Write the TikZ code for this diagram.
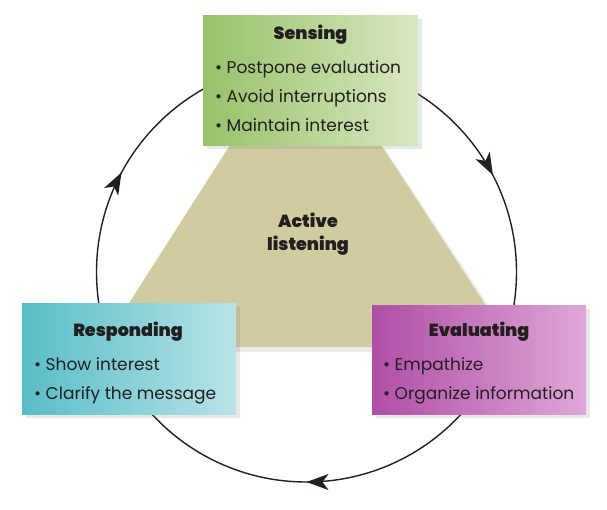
\documentclass[tikz,border=0pt]{standalone}
\usepackage{fontspec}
\setmainfont{Poppins}
\newfontfamily\blk{Poppins Black}
\usetikzlibrary{decorations.markings,arrows.meta,shadows}
\definecolor{ink}{RGB}{35,31,32}
\definecolor{trap}{RGB}{208,204,160}
\definecolor{gL}{RGB}{150,194,105}
\definecolor{gR}{RGB}{216,231,192}
\definecolor{tL}{RGB}{88,189,199}
\definecolor{tR}{RGB}{184,227,231}
\definecolor{pL}{RGB}{176,78,166}
\definecolor{pR}{RGB}{222,168,216}
\tikzset{
  box/.style={rectangle, inner sep=0pt, draw=none,
    drop shadow={opacity=0.18, shadow xshift=4pt, shadow yshift=-4pt}},
  ttl/.style={font=\fontsize{17.5}{20}\blk, text=ink, inner sep=0pt, anchor=base},
  itm/.style={font=\fontsize{17}{20}\selectfont, text=ink, inner sep=0pt, anchor=base west},
  cyc/.style={line width=1.4pt, draw=ink}
}
\begin{document}
\begin{tikzpicture}[x=1pt,y=-1pt]
\useasboundingbox (0,0) rectangle (607,509);
% cycle circle
\coordinate (c) at (306.5,272);
\draw[cyc, postaction={decorate}, decoration={markings,
  mark=at position 0.25 with {\arrow{Stealth[length=22pt,width=16pt,inset=6pt]}},
  mark=at position 0.5786 with {\arrow{Stealth[length=22pt,width=16pt,inset=6pt]}},
  mark=at position 0.9236 with {\arrow{Stealth[length=22pt,width=16pt,inset=6pt]}}}]
  (c) circle[radius=210];
% trapezoid
\fill[black, opacity=0.08] (234,149) -- (385,149) -- (519,352) -- (103,352) -- cycle;
\fill[trap] (230,145) -- (381,145) -- (513,347) -- (101,347) -- cycle;
\node[ttl] (act1) at (308,227) {Active};
\node[ttl] (act2) at (308,250) {listening};
% Sensing
\node[box, minimum width=215pt, minimum height=130pt, left color=gL, right color=gR] (sens) at (310.5,80) {};
\node[ttl] (senst) at (310.5,39) {Sensing};
\node[itm] (sens1) at (215,73) {• Postpone evaluation};
\node[itm] (sens2) at (215,102) {• Avoid interruptions};
\node[itm] (sens3) at (215,131) {• Maintain interest};
% Responding
\node[box, minimum width=214pt, minimum height=111pt, left color=tL, right color=tR] (resp) at (129,358.5) {};
\node[ttl] (respt) at (128,336) {Responding};
\node[itm] (resp1) at (34,370) {• Show interest};
\node[itm] (resp2) at (34,399) {• Clarify the message};
% Evaluating
\node[box, minimum width=214pt, minimum height=109pt, left color=pL, right color=pR] (eval) at (479,359.5) {};
\node[ttl] (evalt) at (479,336) {Evaluating};
\node[itm] (eval1) at (383,370) {• Empathize};
\node[itm] (eval2) at (383,399) {• Organize information};
\end{tikzpicture}
\end{document}
